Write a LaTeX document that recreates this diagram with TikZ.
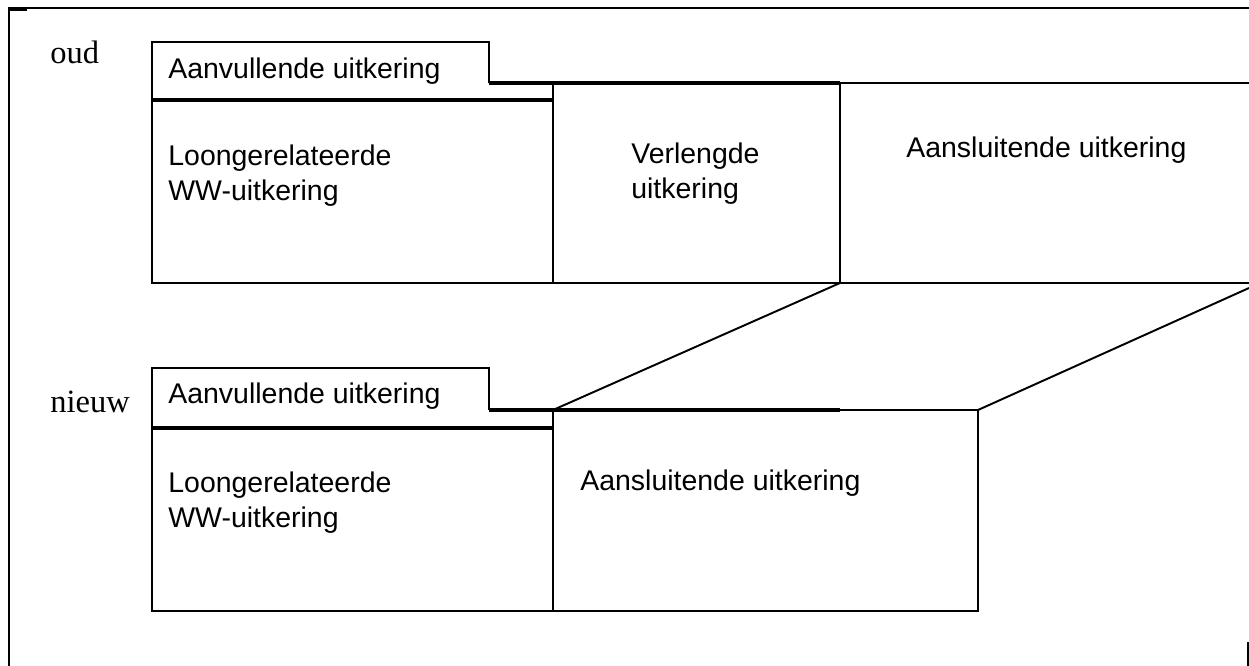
\documentclass[tikz,border=0pt]{standalone}
\usepackage{fontspec}
\setmainfont{Liberation Serif}
\newfontfamily\arialfont{Liberation Sans}
\usepackage{tikz}
\usetikzlibrary{positioning}
\tikzset{
	box/.style={draw=black, line width=1.1pt},
	bar/.style={draw=black, line width=2pt},
	frame/.style={draw=black, line width=1.2pt},
	txt/.style={font=\arialfont\fontsize{16.2}{19.9}\selectfont, inner sep=0pt, anchor=base west, align=left},
	rowlabel/.style={font=\fontsize{18.5}{22}\selectfont, inner sep=0pt, anchor=base west},
}

\begin{document}
\begin{tikzpicture}[x=0.02cm, y=-0.02cm]
		\useasboundingbox (0,0) rectangle (1249,666);
		% Frame
		\draw [frame] (8,8)--(1249,8);
		\draw [frame] (9,8)--(9,666);
		\draw [bar] (9,9.5)--(27,9.5);
		\draw [frame] (1248,642)--(1248,666);
		% Upper row
		\coordinate (oudTop) at (840,283);
		\coordinate (oudEnd) at (1249,288);
		\draw [box] (152,100)--(152,42)--(489,42)--(489,83);
		\draw [bar] (489,83)--(840,83);
		\draw [box] (840,83)--(1249,83);
		\draw [bar] (152,100)--(553,100);
		\draw [box] (152,100)--(152,283)--(1249,283);
		\draw [box] (553,83)--(553,283);
		\draw [box] (840,83)--(840,283);
		\node [rowlabel] (oud) at (50,63) {oud};
		\node [txt] (oudAanv) at (168,78) {Aanvullende uitkering};
		\node [txt] (oudLoon) at (168,200) {Loongerelateerde\\WW-uitkering};
		\node [txt] (oudVerl) at (631,198) {Verlengde\\uitkering};
		\node [txt] (oudAans) at (906,157) {Aansluitende uitkering};
		% Lower row
		\coordinate (nwStart) at (553,410);
		\coordinate (nwEnd) at (978,410);
		\draw [box] (152,428)--(152,368)--(489,368)--(489,410);
		\draw [bar] (489,410)--(840,410);
		\draw [box] (840,410)--(978,410)--(978,611)--(152,611)--(152,428);
		\draw [bar] (152,428)--(553,428);
		\draw [box] (553,410)--(553,611);
		\node [rowlabel] (nieuw) at (50,412) {nieuw};
		\node [txt] (nwAanv) at (168,403) {Aanvullende uitkering};
		\node [txt] (nwLoon) at (168,527) {Loongerelateerde\\WW-uitkering};
		\node [txt] (nwAans) at (580,490) {Aansluitende uitkering};
		% Shift of the follow-up benefit
		\draw [box] (oudTop)--(nwStart);
		\draw [box] (oudEnd)--(nwEnd);
\end{tikzpicture}
\end{document}
